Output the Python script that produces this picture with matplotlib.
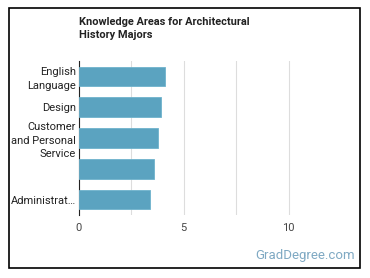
import matplotlib
matplotlib.use('Agg')
from matplotlib import pyplot as plt
from matplotlib.patches import Rectangle

plt.rcParams['font.family'] = ['Roboto', 'DejaVu Sans']

# data
areas = ['English\nLanguage', 'Design', 'Customer\nand Personal\nService', '', 'Administrat\u2026']
scores = [4.11, 3.92, 3.78, 3.58, 3.39]
x_ticks = [0, 5, 10]

fig = plt.figure(figsize=(3.7, 2.78), dpi=100)
W, H = 370, 278
ax = fig.add_axes([79 / W, 1 - 215 / H, (341 - 79) / W, (215 - 61) / H])

y_pos = list(range(len(areas)))
ax.barh(y_pos, scores, height=0.63, color='#5ba3c0', edgecolor='#6fb3cc', linewidth=0.6, zorder=3)
ax.set_yticks(y_pos)
ax.set_yticklabels(areas, fontsize=8, color='#222222', linespacing=1.45)
ax.set_ylim(len(areas) - 0.5, -0.5)
ax.set_xlim(0, 12.5)
ax.set_xticks(x_ticks)
ax.set_xticklabels([str(t) for t in x_ticks], fontsize=8, color='#444444')
ax.set_xticks([2.5, 7.5], minor=True)
ax.tick_params(axis='both', which='both', length=0, pad=6)
ax.tick_params(axis='y', pad=2)
ax.grid(axis='x', which='both', color='#dddddd', linewidth=0.8, zorder=0)
for s in ['top', 'right', 'bottom']:
    ax.spines[s].set_visible(False)
ax.spines['left'].set_color('#222222')
ax.spines['left'].set_linewidth(0.8)

fig.text(79 / W, 1 - 28.5 / H, 'Knowledge Areas for Architectural\nHistory Majors', fontsize=7.9,
         fontweight='bold', color='#222222', va='center', ha='left', linespacing=1.45)
fig.text(355 / W, 1 - 256 / H, 'GradDegree.com', fontsize=9.5, color='#7fa9c3', ha='right', va='center')

# black frame around the chart
fig.patches.append(Rectangle((8.5 / W, 1 - 267.5 / H), (359.5 - 8.5) / W, (267.5 - 8) / H,
                             transform=fig.transFigure, fill=False, edgecolor='black', linewidth=1.2))

fig.savefig('out.png', dpi=100)
